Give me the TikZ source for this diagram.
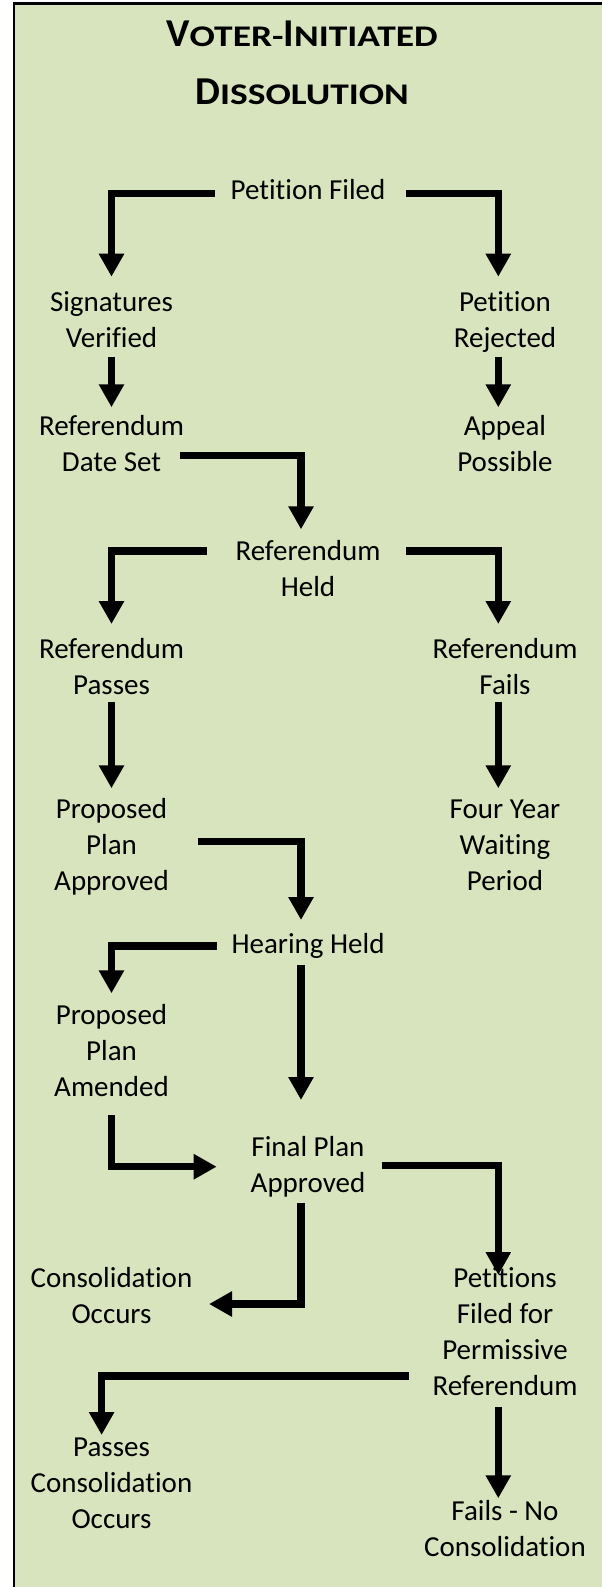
\documentclass[tikz,border=0pt]{standalone}
\usepackage{fontspec}
\setmainfont{Carlito}[Ligatures=NoCommon]
\newfontfamily\titlescfont{Carlito}[Ligatures=NoCommon,FakeStretch=1.25]
\usepackage{tikz}
\usetikzlibrary{arrows.meta}
\definecolor{panelgreen}{HTML}{D7E4BD}
\newcommand{\smallcap}[1]{{\titlescfont\fontsize{30}{58.3}\selectfont #1}}

\begin{document}
\begin{tikzpicture}[x=1pt,y=-1pt,
  stage/.style={anchor=base,inner sep=0pt,text width=190pt,align=flush center,
    font=\fontsize{29}{36}\selectfont},
  flow/.style={line width=7.5pt,-{Triangle[width=24pt,length=23pt]}}]
\useasboundingbox (0,0) rectangle (602,1587);
\fill[white] (0,0) rectangle (602,1587);
\begin{scope}
  \clip (0,0) rectangle (602,1587);
  \draw[line width=2.5pt,fill=panelgreen] (13.8,3.5) rectangle (660,1660);
\end{scope}

% title
\node[anchor=base,inner sep=0pt,text width=320pt,align=flush center,
  font=\fontsize{39.5}{58.3}\selectfont\bfseries] (title) at (302,46.7)
  {V\smallcap{OTER-}I\smallcap{NITIATED}\\D\smallcap{ISSOLUTION}};

% steps
\node[stage] (filed) at (308,199.3) {Petition Filed};
\node[stage] (sigver) at (111.5,311.7) {Signatures\\Verified};
\node[stage] (rejected) at (505,311.7) {Petition\\Rejected};
\node[stage] (dateset) at (111.5,435) {Referendum\\Date Set};
\node[stage] (appeal) at (505,435) {Appeal\\Possible};
\node[stage] (held) at (308,560) {Referendum\\Held};
\node[stage] (passes) at (111.5,658.3) {Referendum\\Passes};
\node[stage] (fails) at (505,658.3) {Referendum\\Fails};
\node[stage] (proposed) at (111.5,818.3) {Proposed\\Plan\\Approved};
\node[stage] (waiting) at (505,818.3) {Four Year\\Waiting\\Period};
\node[stage] (hearing) at (308,953.3) {Hearing Held};
\node[stage] (amended) at (111.5,1024) {Proposed\\Plan\\Amended};
\node[stage] (final) at (308,1156.7) {Final Plan\\Approved};
\node[stage] (occurs) at (111.5,1287.3) {Consolidation\\Occurs};
\node[stage] (permissive) at (505,1287.3) {Petitions\\Filed for\\Permissive\\Referendum};
\node[stage] (passocc) at (111.5,1456.7) {Passes\\Consolidation\\Occurs};
\node[stage] (nocons) at (505,1520) {Fails - No\\Consolidation};

% connectors
\draw[flow] ([shift={(-93,-5.6)}]filed.base) -| ([shift={(0,-35)}]sigver.base);
\draw[flow] ([shift={(98,-5.6)}]filed.base) -| ([shift={(-6.7,-35)}]rejected.base);
\draw[flow] ([shift={(0,45)}]sigver.base) -- ([shift={(0,-27.7)}]dateset.base);
\draw[flow] ([shift={(-6.7,45)}]rejected.base) -- ([shift={(-6.7,-27.7)}]appeal.base);
\draw[flow] ([shift={(68,20.7)}]dateset.base) -| ([shift={(-7,-30.7)}]held.base);
\draw[flow] ([shift={(-101,-9)}]held.base) -| ([shift={(0,-34.3)}]passes.base);
\draw[flow] ([shift={(98,-9)}]held.base) -| ([shift={(-6.7,-34.3)}]fails.base);
\draw[flow] ([shift={(0,43.4)}]passes.base) -- ([shift={(0,-30)}]proposed.base);
\draw[flow] ([shift={(-6.7,43.4)}]fails.base) -- ([shift={(-6.7,-30)}]waiting.base);
\draw[flow] ([shift={(86,23.4)}]proposed.base) -| ([shift={(-7,-33.3)}]hearing.base);
\draw[flow] ([shift={(-91.3,-7.3)}]hearing.base) -| ([shift={(0,-30.7)}]amended.base);
\draw[flow] ([shift={(-7,11.7)}]hearing.base) -- ([shift={(-7,-56.7)}]final.base);
\draw[flow] ([shift={(0,91)}]amended.base) |- ([shift={(-91.3,10)}]final.base);
\draw[flow] ([shift={(-7,46)}]final.base) |- ([shift={(97.5,16.7)}]occurs.base);
\draw[flow] ([shift={(73.7,9)}]final.base) -| ([shift={(-6.7,-12.3)}]permissive.base);
\draw[flow] ([shift={(-96.5,88.7)}]permissive.base) -| ([shift={(-9.9,-21.7)}]passocc.base);
\draw[flow] ([shift={(-6.7,119.4)}]permissive.base) -- ([shift={(-6.7,-21.7)}]nocons.base);
\end{tikzpicture}
\end{document}
